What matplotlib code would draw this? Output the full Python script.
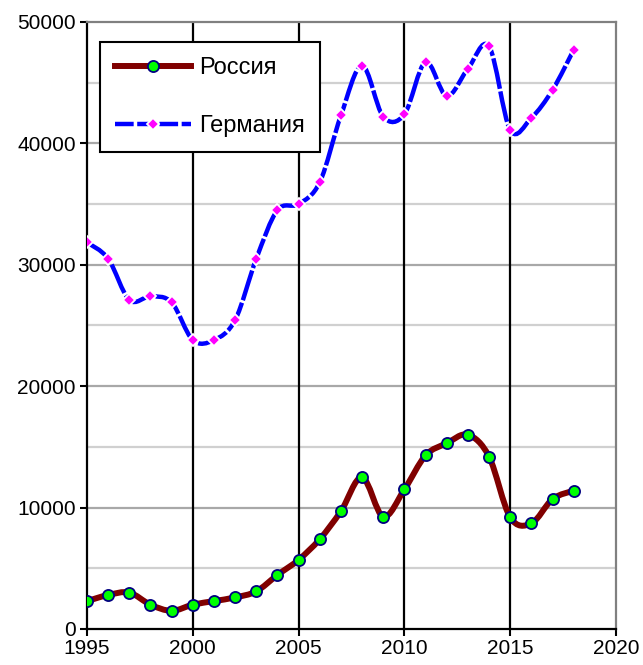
import matplotlib.pyplot as plt
from matplotlib.path import Path
from matplotlib.patches import PathPatch
from matplotlib.lines import Line2D

plt.rcParams['font.family'] = ['Liberation Sans', 'DejaVu Sans']

years = list(range(1995, 2019))
russia = [2300, 2800, 3000, 2000, 1500, 2000, 2300, 2600, 3100, 4450,
          5700, 7400, 9700, 12500, 9250, 11500, 14300, 15300, 16000, 14200,
          9200, 8700, 10700, 11400]
germany = [31850, 30500, 27100, 27400, 26900, 23800, 23800, 25450, 30500, 34500,
           35000, 36800, 42300, 46400, 42200, 42400, 46700, 43900, 46150, 48000,
           41100, 42100, 44400, 47700]
labels = ["Россия", "Германия"]


def smooth_path(xs, ys):
    # Excel-like smoothed line: cubic Bezier segments through every point
    n = len(xs)
    verts = [(xs[0], ys[0])]
    codes = [Path.MOVETO]
    for i in range(n - 1):
        x0, y0 = (xs[i - 1], ys[i - 1]) if i > 0 else (xs[i], ys[i])
        x3, y3 = (xs[i + 2], ys[i + 2]) if i + 2 < n else (xs[i + 1], ys[i + 1])
        c1 = (xs[i] + (xs[i + 1] - x0) / 6, ys[i] + (ys[i + 1] - y0) / 6)
        c2 = (xs[i + 1] - (x3 - xs[i]) / 6, ys[i + 1] - (y3 - ys[i]) / 6)
        verts += [c1, c2, (xs[i + 1], ys[i + 1])]
        codes += [Path.CURVE4] * 3
    return Path(verts, codes)


fig = plt.figure(figsize=(6.43, 6.65), dpi=100)
ax = fig.add_axes([87 / 643, 1 - 629 / 665, 529 / 643, 607 / 665])

ax.set_xlim(1995, 2020)
ax.set_ylim(0, 50000)

# grid
for y in range(5000, 50000, 5000):
    ax.axhline(y, color='#a8a8a8' if y % 10000 == 0 else '#d0d0d0', lw=1.6, zorder=0)
for x in range(2000, 2020, 5):
    ax.axvline(x, color='black', lw=1.6, zorder=1)

ru_color = '#800000'
de_color = '#0000ff'
de_dash = (0, (7, 0.6))

ax.add_patch(PathPatch(smooth_path(years, russia), fill=False, ec=ru_color, lw=4.3,
                       capstyle='round', joinstyle='round', zorder=3))
ax.plot(years, russia, ls='none', marker='o', ms=8, mfc='#00ff00', mec='#000080',
        mew=1.3, zorder=4)

ax.add_patch(PathPatch(smooth_path(years, germany), fill=False, ec=de_color, lw=3.2,
                       ls=de_dash, zorder=3))
ax.plot(years, germany, ls='none', marker='D', ms=6, mfc='#ff00ff', mec='white',
        mew=1.3, zorder=4)

ax.set_xticks(range(1995, 2021, 5))
ax.set_yticks(range(0, 50001, 10000))
ax.tick_params(labelsize=15, direction='out', length=5, width=1.5, colors='black')
ax.tick_params(axis='y', pad=3)
ax.tick_params(axis='x', pad=2)

for s in ['left', 'bottom']:
    ax.spines[s].set_linewidth(1.6)
    ax.spines[s].set_color('black')
for s in ['top', 'right']:
    ax.spines[s].set_linewidth(1.6)
    ax.spines[s].set_color('#808080')

handles = [
    Line2D([], [], color=ru_color, lw=4.3, marker='o', ms=8, mfc='#00ff00',
           mec='#000080', mew=1.3),
    Line2D([], [], color=de_color, lw=3.2, ls=(0, (4.2, 0.8)), marker='D', ms=6,
           mfc='#ff00ff', mec='white', mew=1.3),
]
leg = ax.legend(handles, labels, loc='upper left', bbox_to_anchor=(0.024, 0.967),
                borderaxespad=0, fontsize=17, frameon=True, fancybox=False,
                edgecolor='black', framealpha=1, handlelength=3.2,
                labelspacing=1.5, borderpad=0.65, handletextpad=0.35)
leg.get_frame().set_linewidth(1.5)

fig.savefig('out.png', dpi=100)
